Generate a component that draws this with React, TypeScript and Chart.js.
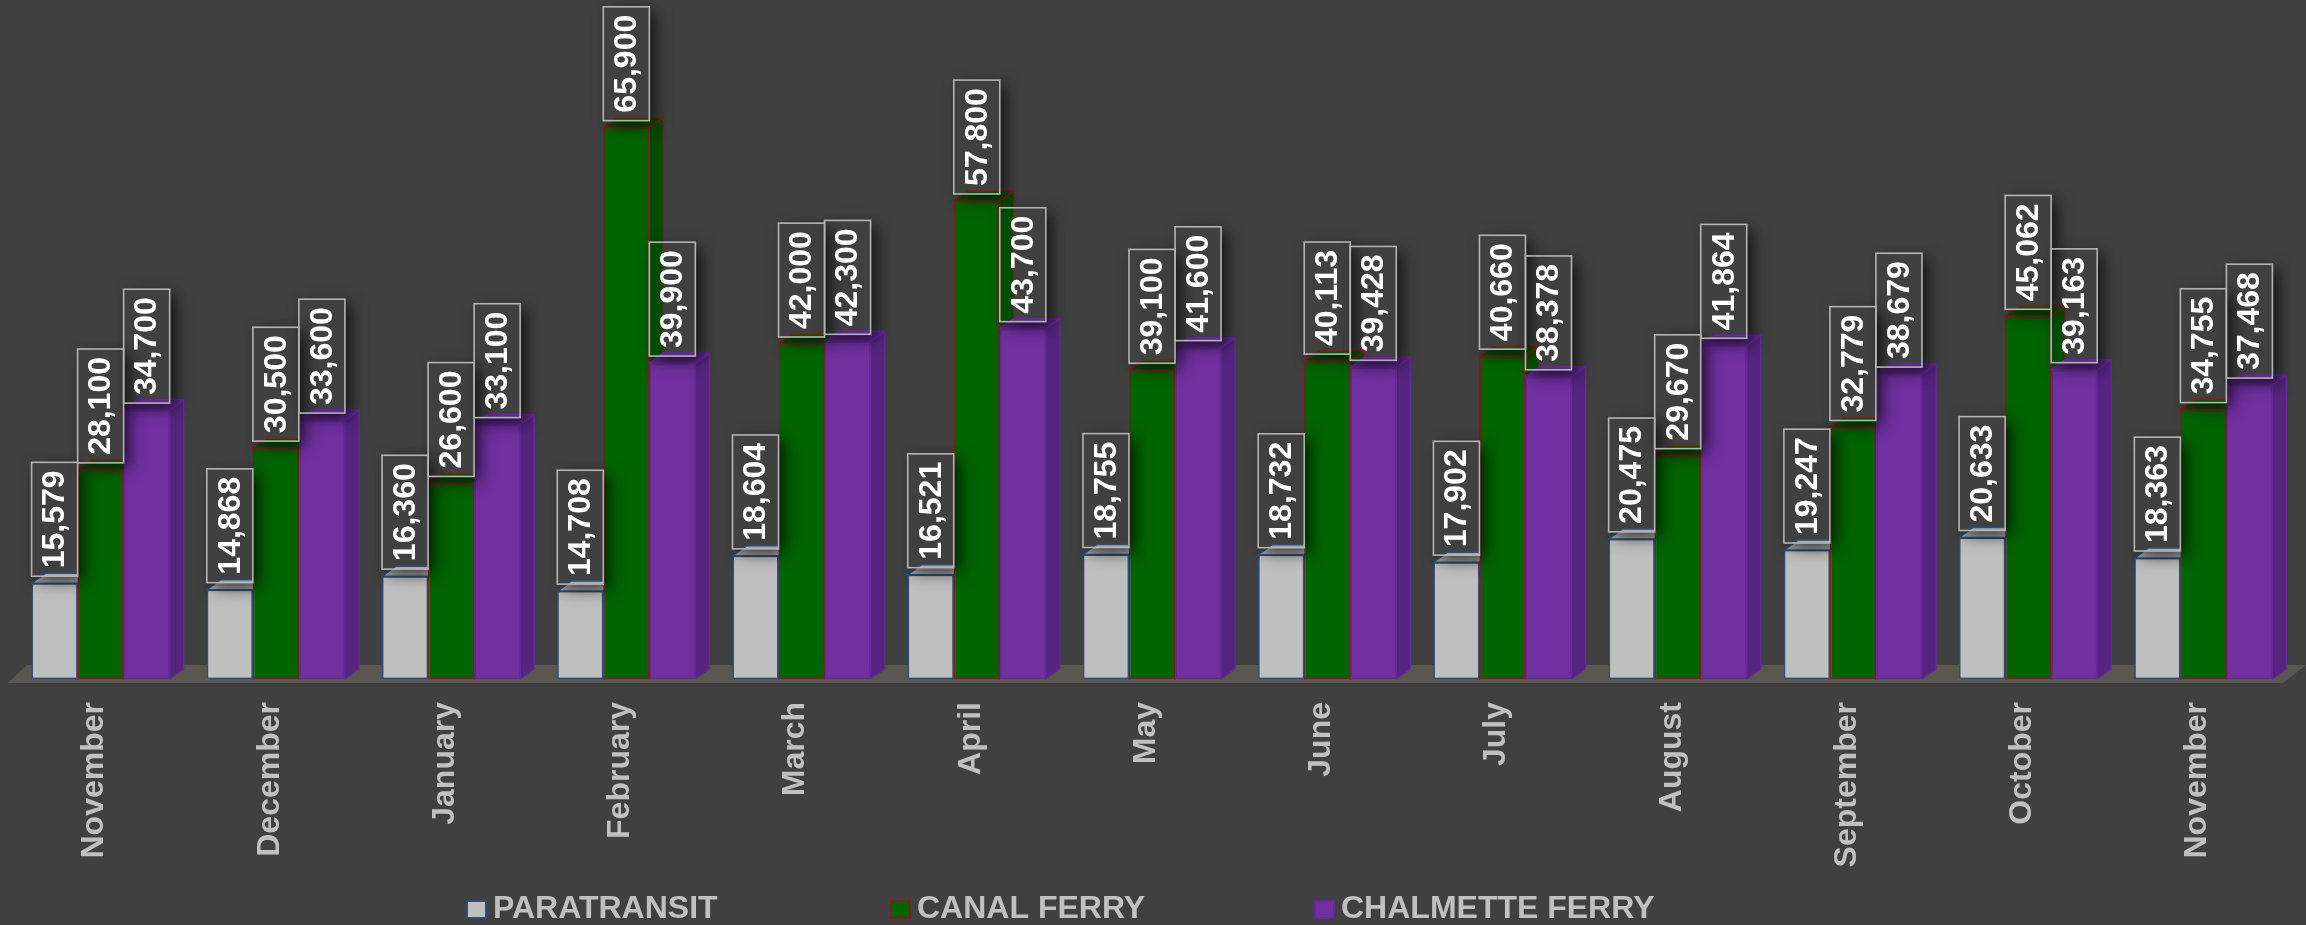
import React, { useEffect, useRef } from 'react';
import { Chart, registerables } from 'chart.js';

Chart.register(...registerables);

const categories = ['November', 'December', 'January', 'February', 'March', 'April', 'May', 'June', 'July', 'August', 'September', 'October', 'November'];
const seriesNames = ['PARATRANSIT', 'CANAL FERRY', 'CHALMETTE FERRY'];
const paratransit = [15579, 14868, 16360, 14708, 18604, 16521, 18755, 18732, 17902, 20475, 19247, 20633, 18363];
const canalFerry = [28100, 30500, 26600, 65900, 42000, 57800, 39100, 40113, 40660, 29670, 32779, 45062, 34755];
const chalmetteFerry = [34700, 33600, 33100, 39900, 42300, 43700, 41600, 39428, 38378, 41864, 38679, 39163, 37468];
const AXIS_MIN = 5000;
const AXIS_MAX = 80000;

const FRONT = ['#bfbfbf', '#006400', '#7030a0'];
const TOP = ['#a8a8a8', '#005400', '#5d288a'];
const SIDE = ['#9a9a9a', '#004c00', '#55247f'];
const EDGE = ['#2f4e78', '#7a2020', '#65299a'];
const DX = 14;
const DY = 10;
const LABEL_FONT = 'bold 32px "Liberation Sans", Arial, sans-serif';
const LEGEND_FONT = 'bold 32px "Liberation Sans", Arial, sans-serif';

const threeD = {
  id: 'threeD',
  beforeDatasetsDraw(chart: any) {
    const { ctx, chartArea: a } = chart;
    ctx.save();
    ctx.fillStyle = '#59574f';
    ctx.beginPath();
    ctx.moveTo(a.left - 5, a.bottom + 4);
    ctx.lineTo(a.right - 8, a.bottom + 4);
    ctx.lineTo(a.right + 15, a.bottom - 14);
    ctx.lineTo(a.left + 14, a.bottom - 14);
    ctx.closePath();
    ctx.fill();
    ctx.restore();
  },
  afterDatasetsDraw(chart: any) {
    const ctx = chart.ctx;
    const boxes: any[] = [];
    ctx.save();
    ctx.font = LABEL_FONT;
    chart.data.datasets.forEach((ds: any, di: number) => {
      const meta = chart.getDatasetMeta(di);
      meta.data.forEach((el: any, i: number) => {
        const { x, y, width, base } = el.getProps(['x', 'y', 'width', 'base'], true);
        el.draw(ctx);
        const l = x - width / 2;
        const r = x + width / 2;
        ctx.save();
        ctx.lineWidth = 1.5;
        ctx.strokeStyle = EDGE[di];
        ctx.lineJoin = 'round';
        ctx.fillStyle = SIDE[di];
        ctx.beginPath();
        ctx.moveTo(r, y);
        ctx.lineTo(r + DX, y - DY);
        ctx.lineTo(r + DX, base - DY);
        ctx.lineTo(r, base);
        ctx.closePath();
        ctx.fill();
        ctx.stroke();
        ctx.fillStyle = TOP[di];
        ctx.beginPath();
        ctx.moveTo(l, y);
        ctx.lineTo(r, y);
        ctx.lineTo(r + DX, y - DY);
        ctx.lineTo(l + DX, y - DY);
        ctx.closePath();
        ctx.fill();
        ctx.stroke();
        ctx.restore();
        const text = Number(ds.data[i]).toLocaleString('en-US');
        const tw = ctx.measureText(text).width;
        const bottom = y - 7;
        boxes.push({ l, r, bottom, top: bottom - tw - 16, text });
      });
    });
    // outer shadows of label boxes (not inside their own box)
    boxes.forEach((b) => {
      ctx.save();
      ctx.beginPath();
      ctx.rect(0, 0, chart.width, chart.height);
      ctx.rect(b.l, b.top, b.r - b.l, b.bottom - b.top);
      ctx.clip('evenodd');
      ctx.shadowColor = 'rgba(0,0,0,0.7)';
      ctx.shadowBlur = 16;
      ctx.shadowOffsetX = 10000 + 6;
      ctx.shadowOffsetY = 5;
      ctx.fillStyle = '#000';
      ctx.fillRect(b.l - 10000, b.top, b.r - b.l, b.bottom - b.top);
      ctx.restore();
    });
    boxes.forEach((b) => {
      ctx.strokeStyle = '#b4b4b4';
      ctx.lineWidth = 1.6;
      ctx.strokeRect(b.l, b.top, b.r - b.l, b.bottom - b.top);
      ctx.save();
      ctx.translate((b.l + b.r) / 2, (b.top + b.bottom) / 2);
      ctx.rotate(-Math.PI / 2);
      ctx.textAlign = 'center';
      ctx.textBaseline = 'middle';
      ctx.fillStyle = '#ffffff';
      ctx.fillText(b.text, 0, 1);
      ctx.restore();
    });
    ctx.restore();
  },
  afterDraw(chart: any) {
    const ctx = chart.ctx;
    ctx.save();
    ctx.font = LEGEND_FONT;
    ctx.textBaseline = 'alphabetic';
    ctx.textAlign = 'left';
    seriesNames.forEach((name, i) => {
      const x0 = 467 + i * 424;
      ctx.fillStyle = FRONT[i];
      ctx.fillRect(x0, 901, 19, 17);
      ctx.strokeStyle = EDGE[i];
      ctx.lineWidth = 2;
      ctx.strokeRect(x0, 901, 19, 17);
      ctx.fillStyle = '#c0c0c0';
      ctx.fillText(name, x0 + 26, 918);
    });
    ctx.restore();
  },
};

export default function App() {
  const ref = useRef<HTMLCanvasElement>(null);
  useEffect(() => {
    if (!ref.current) return;
    const values = [paratransit, canalFerry, chalmetteFerry];
    const chart = new Chart(ref.current, {
      type: 'bar',
      data: {
        labels: categories,
        datasets: seriesNames.map((name, i) => ({
          label: name,
          data: values[i],
          base: AXIS_MIN,
          backgroundColor: FRONT[i],
          borderColor: EDGE[i],
          borderWidth: 1.5,
          borderSkipped: false,
          categoryPercentage: 0.788,
          barPercentage: 1,
        })),
      },
      options: {
        animation: false,
        responsive: false,
        devicePixelRatio: 1,
        layout: { padding: { left: 13, right: 15, top: 0, bottom: 6 } },
        plugins: { legend: { display: false }, tooltip: { enabled: false }, title: { display: false } },
        scales: {
          y: { type: 'linear', min: AXIS_MIN, max: AXIS_MAX, display: false },
          x: {
            grid: { display: false },
            border: { display: false },
            ticks: {
              color: '#c0c0c0',
              font: { family: '"Liberation Sans", Arial, sans-serif', size: 32, weight: 'bold' },
              minRotation: 90,
              maxRotation: 90,
              autoSkip: false,
              padding: 15,
              labelOffset: -6,
            },
            afterFit: (s: any) => {
              s.height = 240;
            },
          },
        },
      },
      plugins: [threeD],
    } as any);
    return () => chart.destroy();
  }, []);
  return (
    <div style={{ position: 'fixed', left: 0, top: 0, width: 2306, height: 925, background: '#404040' }}>
      <canvas ref={ref} width={2306} height={925} style={{ display: 'block' }} />
    </div>
  );
}
